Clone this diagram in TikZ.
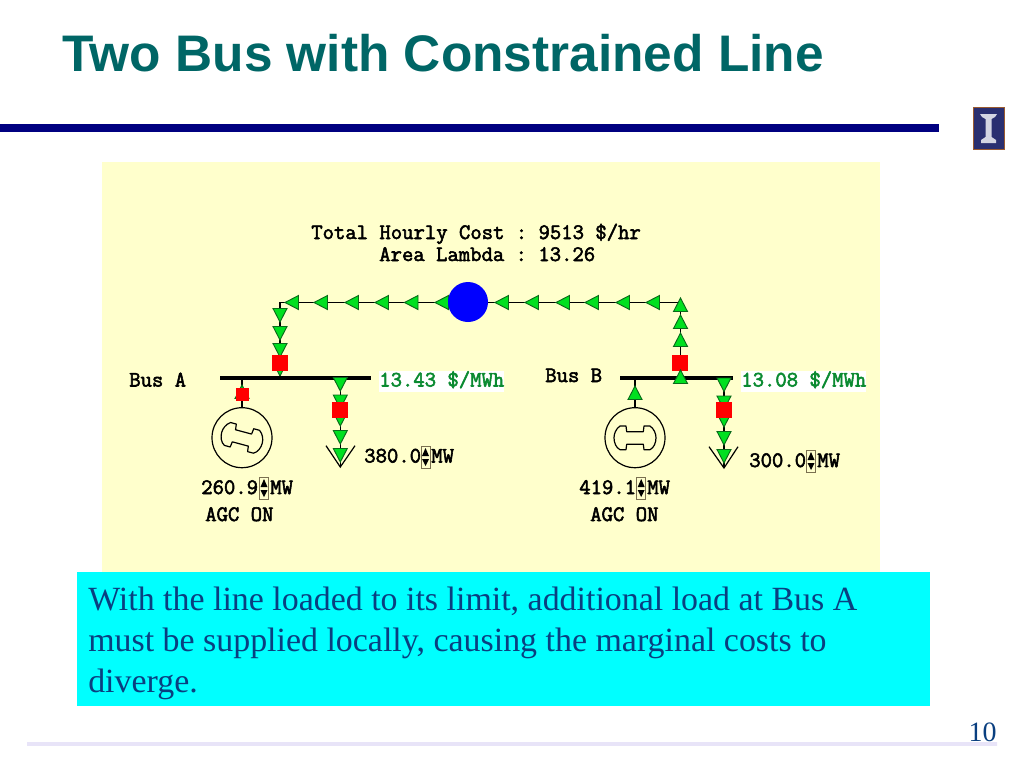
\documentclass[tikz,border=0pt]{standalone}
\usepackage{fontspec}
\setmainfont{Liberation Serif}
\setsansfont{Liberation Sans}
\setmonofont[FakeBold=2.5]{Latin Modern Mono}
\usetikzlibrary{calc}
\definecolor{teal1}{HTML}{006666}
\definecolor{navy1}{HTML}{000080}
\definecolor{panel}{HTML}{FFFFCC}
\definecolor{bodyblue}{HTML}{0A3F80}
\definecolor{boxcyan}{HTML}{00FFFF}
\definecolor{flowgreen}{HTML}{00E020}
\definecolor{flowedge}{HTML}{0A6A1A}
\definecolor{pricegreen}{HTML}{0A8A30}
\definecolor{spinedge}{HTML}{7A7050}
\definecolor{lav1}{HTML}{E8E4F8}
\definecolor{lav2}{HTML}{DDBBEE}
\definecolor{logobg}{HTML}{2A2F70}
\definecolor{logoedge}{HTML}{9A5A30}
\tikzset{
  x=0.75pt,y=-0.75pt,
  wire/.style={draw=black,line width=0.9pt},
  bar/.style={draw=black,line width=2.8pt},
  mono/.style={font=\ttfamily\frenchspacing\fontsize{16.55pt}{18pt}\selectfont,text=black,inner sep=0pt,anchor=base west},
  price/.style={mono,text=pricegreen,fill=white,text height=12pt,text depth=3.75pt},
  breaker/.style={rectangle,fill=red,inner sep=0pt,minimum size=12pt},
  gencircle/.style={circle,draw=black,line width=0.9pt,inner sep=0pt,minimum size=45pt},
  flow/.style={fill=flowgreen,draw=flowedge,line width=0.7pt,line join=miter},
  tl/.pic={\path[flow] (0,0) -- (13.5,-7) -- (13.5,7) -- cycle;},
  td/.pic={\path[flow] (0,0) -- (-7,-13.5) -- (7,-13.5) -- cycle;},
  tu/.pic={\path[flow] (0,0) -- (-7,13.5) -- (7,13.5) -- cycle;},
  spinner/.pic={
    \path[draw=spinedge,fill=panel,line width=0.7pt] (0,0) rectangle (9,22);
    \path[fill=black] (4.5,2) -- (8,10) -- (1,10) -- cycle;
    \path[fill=black] (4.5,20) -- (8,13) -- (1,13) -- cycle;
  },
  genshape/.pic={
    \path[draw=black,line width=0.9pt,line join=round]
      (-9,-11.7) -- (-8.3,-6) -- (8.3,-6) -- (9,-11.7) -- (15,-11.7)
      .. controls (19,-9) and (21,-4) .. (21,0)
      .. controls (21,5) and (19,10) .. (15,12)
      -- (9,12) -- (8.3,6.5) -- (-8.3,6.5) -- (-9,12) -- (-15,12)
      .. controls (-19,10) and (-21,5) .. (-21,0)
      .. controls (-21,-4) and (-19,-9) .. (-15,-11.7) -- cycle;
  }
}
\begin{document}
\begin{tikzpicture}
\useasboundingbox (0,0) rectangle (1024,768);
\fill[white] (0,0) rectangle (1024,768);
% slide furniture
\node[font=\sffamily\bfseries\fontsize{38.55pt}{40pt}\selectfont,text=teal1,inner sep=0pt,anchor=base west] (title) at (62,71) {Two Bus with Constrained Line};
\fill[navy1] (0,124) rectangle (939,132);
\path[fill=logobg,draw=logoedge,line width=1pt] (973.5,107.5) rectangle (1004.5,149.5);
\fill[white!80!logobg] (980,114) -- (997,114) -- (995,117) -- (991.5,119) -- (991.5,137) -- (996,140) -- (996,143) -- (981,143) -- (981,140) -- (985.5,137) -- (985.5,119) -- (982,117) -- cycle;
\shade[left color=lav1,middle color=lav2,right color=lav1] (27,742.5) rectangle (997,745);
\node[font=\fontsize{21pt}{24pt}\selectfont,text=bodyblue,inner sep=0pt,anchor=base east] (pageno) at (997,741) {10};
% panels
\fill[panel] (102,162) rectangle (880,572);
\fill[boxcyan] (77,572) rectangle (930,706);
\node[font=\fontsize{25.43pt}{30pt}\selectfont,text=bodyblue,inner sep=0pt,anchor=base west] (l1) at (88,610) {With the line loaded to its limit, additional load at Bus A};
\node[font=\fontsize{25.43pt}{30pt}\selectfont,text=bodyblue,inner sep=0pt,anchor=base west] (l2) at (88,651) {must be supplied locally, causing the marginal costs to};
\node[font=\fontsize{25.43pt}{30pt}\selectfont,text=bodyblue,inner sep=0pt,anchor=base west] (l3) at (88,692) {diverge.};
% cost text
\node[mono] (cost) at (311,239) {Total Hourly Cost : 9513 \$/hr};
\node[mono] (lambda) at (379,261) {Area Lambda : 13.26};
% named points
\coordinate (cornerA) at (280,302.5);
\coordinate (cornerB) at (680.5,302.5);
\coordinate (tapA) at (280,378);
\coordinate (tapB) at (680.5,378);
\coordinate (busAw) at (220,378);
\coordinate (busAe) at (371,378);
\coordinate (busBw) at (620,378);
\coordinate (busBe) at (733,378);
\coordinate (genAtap) at (242,378);
\coordinate (genBtap) at (635,378);
\coordinate (loadAtap) at (340.3,378);
\coordinate (loadBtap) at (724,378);
\coordinate (loadAtip) at (340.3,467);
\coordinate (loadBtip) at (724,468);
\coordinate (vAl) at (326,445.7);
\coordinate (vAr) at (355,445.7);
\coordinate (vBl) at (709,446.7);
\coordinate (vBr) at (738,446.7);
% generators
\node[gencircle] (genA) at (242,437.7) {};
\node[gencircle] (genB) at (635,437.7) {};
\pic[rotate=-15] at (genA.center) {genshape};
\pic at (genB.center) {genshape};
% line
\draw[wire] (tapA) -- (cornerA) -- (cornerB) -- (tapB);
\draw[wire] (genAtap) -- (genA);
\draw[wire] (genBtap) -- (genB);
\draw[wire] (loadAtap) -- (loadAtip);
\draw[wire] (loadBtap) -- (loadBtip);
\draw[wire] (vAl) -- (loadAtip) -- (vAr);
\draw[wire] (vBl) -- (loadBtip) -- (vBr);
% flow arrows
\foreach \x in {285,314,345,375,404.5,435,495,525,556,585,616,646}
  \pic at (\x,302.5) {tl};
\foreach \y in {322,340,357,376}
  \pic at (280,\y) {td};
\foreach \y in {298,315,333}
  \pic at (680.5,\y) {tu};
\foreach \y in {408.5,426,444,462}
  \pic at (340.3,\y) {td};
\foreach \y in {409.5,427,445,463}
  \pic at (724,\y) {td};
\pic at (635,386) {tu};
\pic at (242,385) {tu};
% breakers
\node[breaker] (brk1) at (280,362.5) {};
\node[breaker] (brk2) at (680,362.5) {};
\node[breaker,minimum size=9.75pt] (brk3) at (242.3,394.5) {};
\node[breaker] (brk4) at (340.3,409.5) {};
\node[breaker] (brk5) at (723.5,409.8) {};
% buses
\draw[bar] (busAw) -- (busAe);
\draw[bar] (busBw) -- (busBe);
% bus flows over the bar
\pic at (680.5,370) {tu};
\pic at (340.3,391) {td};
\pic at (724,391.5) {td};
% flow source
\node[circle,fill=blue,inner sep=0pt,minimum size=30pt] (src) at (468,302) {};
% labels
\node[mono] (busAl) at (129,386.5) {Bus A};
\node[mono] (busBl) at (545,382) {Bus B};
\node[price] (priceA) at (379,386.5) {13.43 \$/MWh};
\node[price] (priceB) at (741,386.5) {13.08 \$/MWh};
\node[mono] (vlA) at (364,462.5) {380.0};
\node[mono] (mwlA) at (431,462.5) {MW};
\node[mono] (vlB) at (749,467) {300.0};
\node[mono] (mwlB) at (817,467) {MW};
\node[mono] (vgA) at (201,494) {260.9};
\node[mono] (mwgA) at (270,494) {MW};
\node[mono] (vgB) at (579,494) {419.1};
\node[mono] (mwgB) at (647,494) {MW};
\node[mono] (agcA) at (205,521) {AGC ON};
\node[mono] (agcB) at (590,521) {AGC ON};
\pic at (421,446) {spinner};
\pic at (806.5,450) {spinner};
\pic at (259.5,477) {spinner};
\pic at (636.7,477) {spinner};
\end{tikzpicture}
\end{document}
